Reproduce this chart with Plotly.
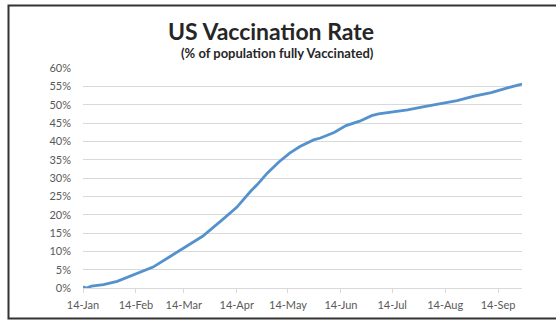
import plotly.graph_objects as go

dates = ["2021-01-14", "2021-01-16", "2021-01-19", "2021-01-26", "2021-02-03", "2021-02-14",
         "2021-02-24", "2021-03-06", "2021-03-14", "2021-03-25", "2021-04-06", "2021-04-14",
         "2021-04-22", "2021-04-26", "2021-05-02", "2021-05-09", "2021-05-15", "2021-05-21",
         "2021-05-29", "2021-06-02", "2021-06-10", "2021-06-17", "2021-06-25", "2021-07-02",
         "2021-07-06", "2021-07-13", "2021-07-23", "2021-08-01", "2021-08-11", "2021-08-21",
         "2021-08-31", "2021-09-10", "2021-09-19", "2021-09-28"]
pct_vaccinated = [0.3, 0.0, 0.5, 0.9, 1.8, 3.9,
                  5.7, 8.6, 10.9, 14.1, 18.8, 22.0,
                  26.3, 28.2, 31.4, 34.5, 36.8, 38.6,
                  40.4, 40.9, 42.4, 44.3, 45.5, 47.0,
                  47.5, 47.9, 48.6, 49.4, 50.2, 51.1,
                  52.3, 53.3, 54.5, 55.6]

tick_dates = ["2021-01-14", "2021-02-14", "2021-03-14", "2021-04-14", "2021-05-14",
              "2021-06-14", "2021-07-14", "2021-08-14", "2021-09-14"]
tick_labels = ["14-Jan", "14-Feb", "14-Mar", "14-Apr", "14-May",
               "14-Jun", "14-Jul", "14-Aug", "14-Sep"]

title_text = "US Vaccination Rate"
subtitle_text = "(% of population fully Vaccinated)"

FONT = "Lato, 'Open Sans', sans-serif"

fig = go.Figure()
fig.add_trace(go.Scatter(
    x=dates, y=pct_vaccinated, mode="lines",
    line=dict(color="#5592cc", width=2.8),
    hoverinfo="skip", showlegend=False,
))

L, R, T, B = 83, 34, 68, 32
W, H = 556, 320
pw, ph = W - L - R, H - T - B

def px_x(p):
    return (p - L) / pw

def px_y(p):
    return (H - B - p) / ph

fig.update_layout(
    width=W, height=H,
    margin=dict(l=L, r=R, t=T, b=B, pad=0, autoexpand=False),
    paper_bgcolor="white", plot_bgcolor="white",
    font=dict(family=FONT, color="#595959", size=11),
    showlegend=False,
    xaxis=dict(
        type="date",
        range=["2021-01-14", "2021-09-28"],
        tickvals=tick_dates, ticktext=tick_labels,
        showgrid=False, zeroline=False,
        showline=True, linecolor="#d9d9d9", linewidth=1,
        ticks="outside", ticklen=4, tickcolor="#d9d9d9",
        ticklabelstandoff=3,
        tickfont=dict(size=11, color="#595959"),
        automargin=False,
        fixedrange=True,
    ),
    yaxis=dict(
        range=[0, 60], dtick=5, ticksuffix="%",
        showgrid=True, gridcolor="#d9d9d9", gridwidth=1,
        zeroline=False, showline=False, ticks="",
        ticklabelstandoff=11,
        tickfont=dict(size=11, color="#595959"),
        automargin=False,
        fixedrange=True,
    ),
    annotations=[
        dict(text="<b>" + title_text + "</b>", xref="paper", yref="paper",
             x=px_x(271), y=px_y(31), xanchor="center", yanchor="middle",
             showarrow=False, font=dict(family=FONT, size=23, color="#262626")),
        dict(text="<b>" + subtitle_text + "</b>", xref="paper", yref="paper",
             x=px_x(277), y=px_y(53), xanchor="center", yanchor="middle",
             showarrow=False, font=dict(family=FONT, size=13, color="#262626")),
    ],
    shapes=[
        dict(type="rect", xref="paper", yref="paper",
             x0=px_x(8.5), x1=px_x(558), y0=px_y(318.5), y1=px_y(5.5),
             line=dict(color="#333333", width=2), fillcolor="rgba(0,0,0,0)", layer="above"),
    ],
)

fig.write_html("out.html")
